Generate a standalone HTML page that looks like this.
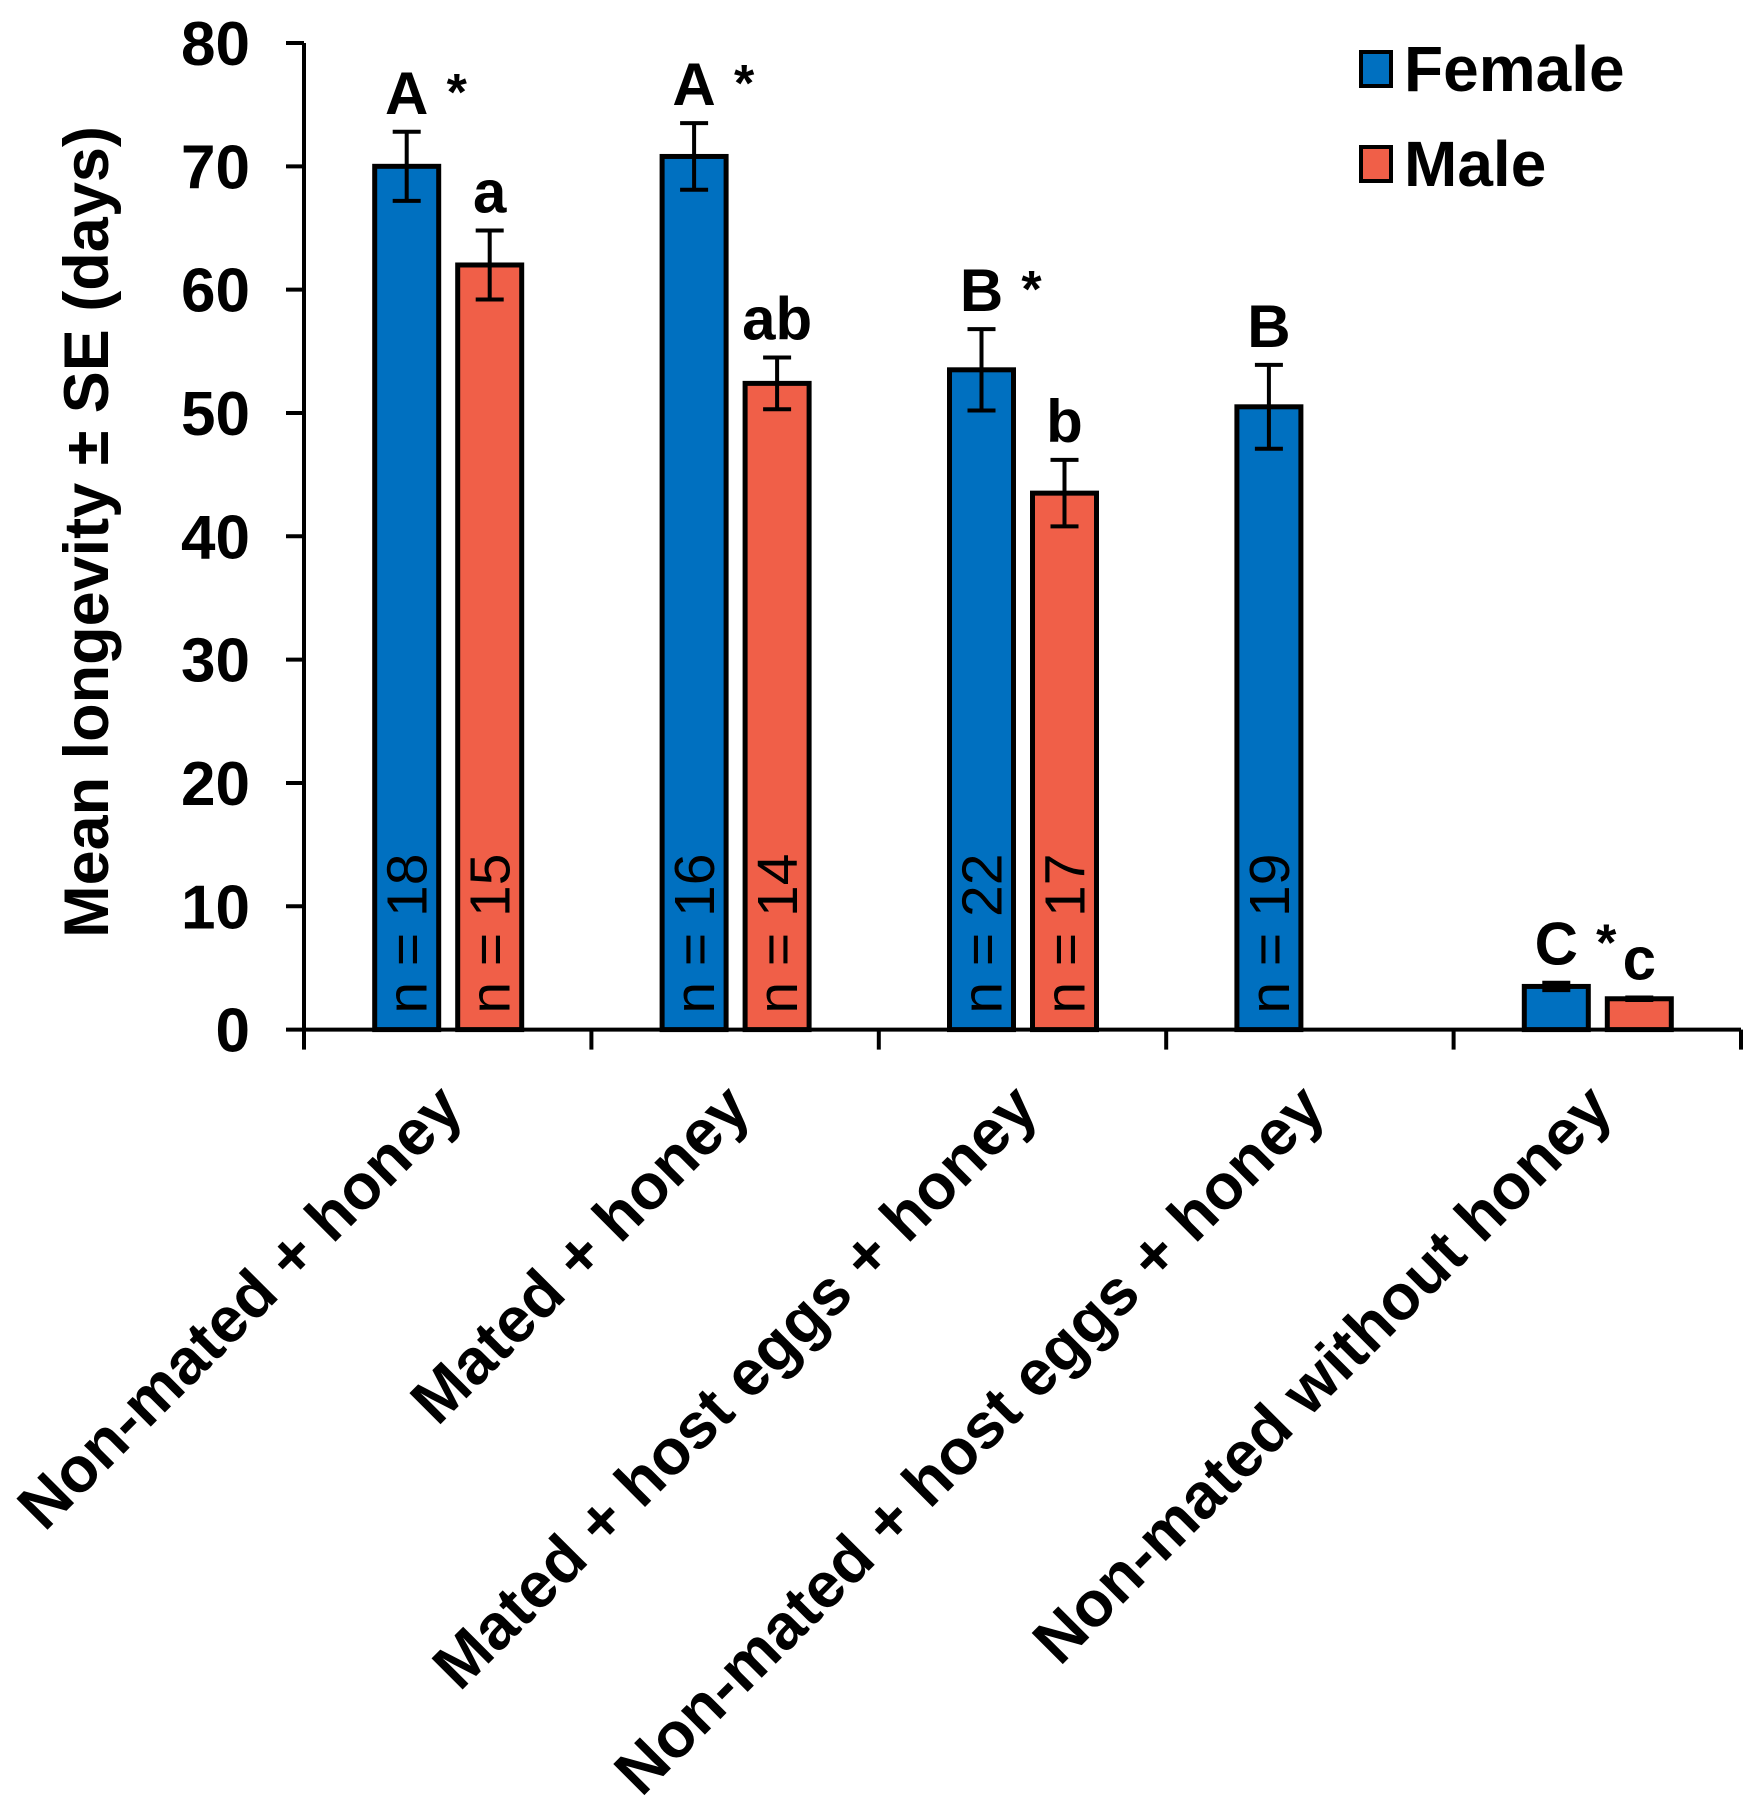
<!DOCTYPE html>
<html><head><meta charset="utf-8"><style>html,body{margin:0;padding:0;background:#fff}svg{display:block}text{font-family:"Liberation Sans",Arial,sans-serif}</style></head>
<body>
<svg id="chart" width="1757" height="1808" viewBox="0 0 1757 1808" xmlns="http://www.w3.org/2000/svg"></svg>
<script>
const categories = ["Non-mated + honey","Mated + honey","Mated + host eggs + honey","Non-mated + host eggs + honey","Non-mated without honey"];
const femaleValues = [70.0, 70.8, 53.5, 50.5, 3.5];
const femaleSE = [2.8, 2.7, 3.3, 3.4, 0.3];
const maleValues = [62.0, 52.4, 43.5, null, 2.5];
const maleSE = [2.8, 2.1, 2.7, null, 0.1];
const femaleLetters = ["A","A","B","B","C"];
const femaleStar = [true,true,true,false,true];
const maleLetters = ["a","ab","b","","c"];
const femaleN = ["n = 18","n = 16","n = 22","n = 19",""];
const maleN = ["n = 15","n = 14","n = 17","",""];
const yTicks = [0,10,20,30,40,50,60,70,80];

const NS="http://www.w3.org/2000/svg";
const svg=document.getElementById('chart');
const X0=304, X1=1741, Y0=1029.6, Ytop=43;
const yMax=80;
const y=v=>Y0-(v/yMax)*(Y0-Ytop);
const catW=(X1-X0)/categories.length;
const cx=i=>X0+catW*(i+0.5);
function mk(tag,attrs,parent){const e=document.createElementNS(NS,tag);for(const k in attrs)e.setAttribute(k,attrs[k]);(parent||svg).appendChild(e);return e;}

let ax=mk('line',{x1:X0,y1:Ytop,x2:X0,y2:Y0+2,stroke:'#000','stroke-width':4});


yTicks.forEach(t=>{
  const tk=mk('line',{x1:X0-18,y1:y(t),x2:X0,y2:y(t),stroke:'#000','stroke-width':4});
  
  
  const tl=mk('text',{x:250,y:y(t)+22,'text-anchor':'end','font-size':62,'font-weight':'bold'});
  tl.textContent=t;
  
  
});
let xa=mk('line',{x1:X0-2,y1:Y0,x2:X1,y2:Y0,stroke:'#000','stroke-width':4});


for(let i=0;i<=categories.length;i++){
  const xx=X0+catW*i;
  const tk=mk('line',{x1:xx,y1:Y0,x2:xx,y2:Y0+20,stroke:'#000','stroke-width':4});
  
  
}
let yt=mk('text',{x:0,y:0,'text-anchor':'middle','font-size':63,'font-weight':'bold',transform:'translate(108,532) rotate(-90)'});
yt.textContent='Mean longevity \u00b1 SE (days)';



function bar(i,val,se,off,color,series,nLabel,letter,star){
  if(val==null)return;
  const bx=cx(i)+off, w=64;
  const r=mk('rect',{x:bx-w/2,y:y(val),width:w,height:Y0-y(val),fill:color,stroke:'#000','stroke-width':5});
  
  
  const e=mk('path',{d:`M${bx},${y(val+se)}V${y(val-se)}M${bx-14},${y(val+se)}H${bx+14}M${bx-14},${y(val-se)}H${bx+14}`,stroke:'#000','stroke-width':4,fill:'none'});
  
  
  if(nLabel){
    const n=mk('text',{x:0,y:0,'font-size':57,fill:'#000',transform:`translate(${bx+20},${Y0-16}) rotate(-90)`});
    n.textContent=nLabel;
    
    
  }
  if(letter){
    const lt=mk('text',{x:bx,y:y(val+se)-18,'text-anchor':'middle','font-size':60,'font-weight':'bold'});
    lt.textContent=letter;
    
    
  }
  if(star){
    const st=mk('text',{x:bx+50,y:y(val+se)-22,'text-anchor':'middle','font-size':52,'font-weight':'bold'});
    st.textContent='*';
    
    
  }
}
categories.forEach((c,i)=>{
  bar(i,femaleValues[i],femaleSE[i],-41,'#0070C0','female',femaleN[i],femaleLetters[i],femaleStar[i]);
  bar(i,maleValues[i],maleSE[i],42,'#F05F48','male',maleN[i],maleLetters[i],false);
  const t=mk('text',{x:0,y:0,'text-anchor':'end','font-size':64,'font-weight':'bold',transform:`translate(${cx(i)+18},${Y0+82}) rotate(-45)`});
  t.textContent=c;
  
  
});
[['Female','#0070C0',52],['Male','#F05F48',147]].forEach(([lab,col,yy])=>{
  const s=mk('rect',{x:1361,y:yy,width:30,height:34,fill:col,stroke:'#000','stroke-width':4});
  
  
  const t=mk('text',{x:1404,y:yy+39,'font-size':64,'font-weight':'bold'});
  t.textContent=lab;
  
  
});
</script>
</body></html>
